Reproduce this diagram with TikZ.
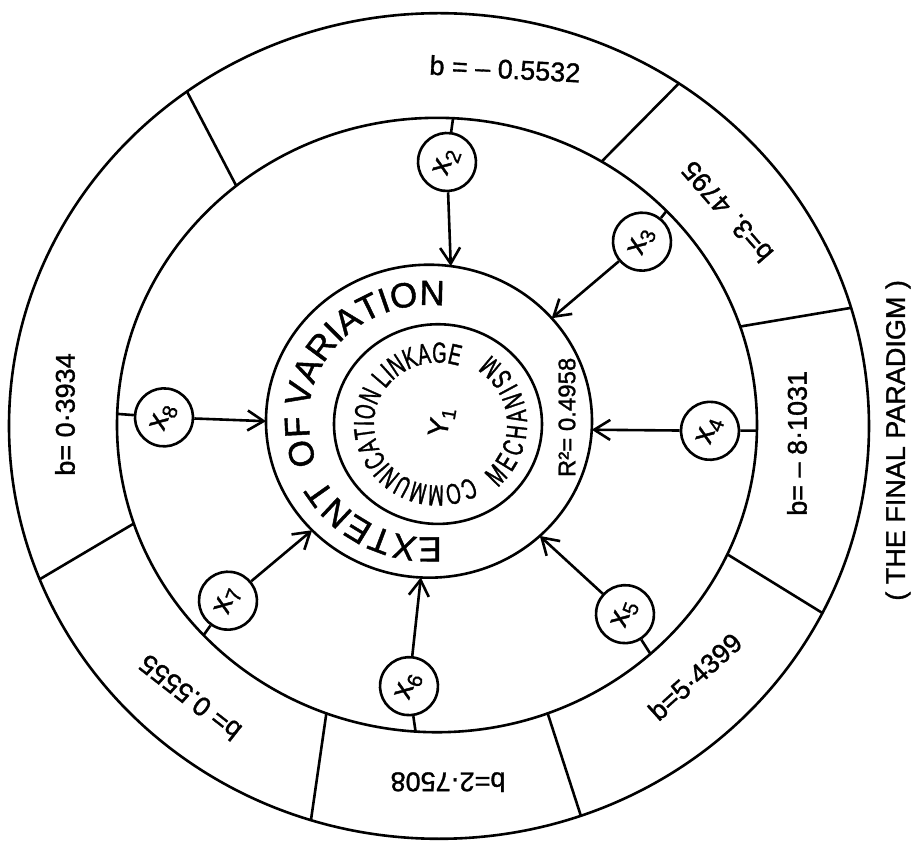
\documentclass[tikz,border=0pt]{standalone}
\usepackage{fontspec}
\setmainfont[FakeBold=1.2]{Liberation Sans}
\newfontfamily\narrowfont[FakeStretch=0.64,FakeBold=1.2]{Liberation Sans}
\usetikzlibrary{shapes.geometric,arrows.meta,decorations.text}
\newcommand\ringfont{\fontsize{35}{40}\selectfont}
\newcommand\corefont{\narrowfont\fontsize{29}{34}\selectfont}
\begin{document}
\begin{tikzpicture}[x=1pt, y=0.96pt, line width=2.6pt,
  >={Straight Barb[length=16pt,width=20pt]},
  ring/.style={draw, ellipse, inner sep=0pt, outer sep=0pt, minimum width=#1, minimum height=0.96*#1},
  xnode/.style={draw, circle, minimum size=58pt, inner sep=0pt, font=\fontsize{30}{32}\selectfont, rotate=70},
  blabel/.style={inner sep=0pt, font=\fontsize{27}{30}\selectfont}]
\useasboundingbox (-437,-439.6) rectangle (477,443.75);

\node[ring=860] (outer) at (2,0) {};
\node[ring=640] (mid) at (0,1) {};
\node[ring=326] (ext) at (-8,5) {};
\node[ring=208] (core) at (1,2) {};

% segments of the outer band
\draw (mid.58) -- (outer.55);
\draw (mid.18) -- (outer.16);
\draw (mid.-24) -- (outer.-26);
\draw (mid.-69) -- (outer.-70);
\draw (mid.-111) -- (outer.-108);
\draw (mid.198) -- (outer.201);
\draw (mid.130) -- (outer.127);

\node[blabel, rotate=-3] (b1) at (68,372) {b = – 0.5532};
\node[blabel, rotate=131] (b2) at (290,223) {b=3. 4795};
\node[blabel, rotate=90] (b3) at (360,-18) {b= – 8·1031};
\node[blabel, rotate=42] (b4) at (258,-261) {b=5·4399};
\node[blabel, rotate=180] (b5) at (11,-371) {b=2·7508};
\node[blabel, rotate=142] (b6) at (-247,-283) {b= 0.5555};
\node[blabel, rotate=90] (b7) at (-372,12) {b= 0·3934};

\node[xnode] (x2) at (10,275) {x\textsubscript{2}};
\node[xnode] (x3) at (205,192) {x\textsubscript{3}};
\node[xnode] (x4) at (273,-5) {x\textsubscript{4}};
\node[xnode] (x5) at (188,-196) {x\textsubscript{5}};
\node[xnode] (x6) at (-28,-271) {x\textsubscript{6}};
\node[xnode] (x7) at (-209,-182) {x\textsubscript{7}};
\node[xnode] (x8) at (-273,9) {x\textsubscript{8}};

\draw (x2) -- (mid.87);
\draw (x3) -- (mid.43);
\draw (x4) -- (mid.-1);
\draw (x5) -- (mid.-47);
\draw (x6) -- (mid.-94);
\draw (x7) -- (mid.222);
\draw (x8) -- (mid.178);

\draw[->] (x2) -- (ext.82);
\draw[->] (x3) -- (ext.40);
\draw[->] (x4) -- (ext.-3);
\draw[->] (x5) -- (ext.-46);
\draw[->] (x6) -- (ext.-93);
\draw[->] (x7) -- (ext.223);
\draw[->] (x8) -- (ext.180);

% lettering round the rings
\path[decorate, decoration={text along path, text align=fit to path, text={|\ringfont|EXTENT}}]
  ([shift={(ext.center)}]-84:121) arc[start angle=-84, end angle=-151, radius=121];
\path[decorate, decoration={text along path, text align=fit to path, text={|\ringfont|OF}}]
  ([shift={(ext.center)}]201.5:120) arc[start angle=201.5, end angle=178, radius=120];
\path[decorate, decoration={text along path, text align=fit to path, text={|\ringfont|VARIATION}}]
  ([shift={(ext.center)}]173.5:121) arc[start angle=173.5, end angle=83, radius=121];
\path[decorate, decoration={text along path, text align=fit to path, text={|\corefont|COMMUNICATION LINKAGE}}]
  ([shift={(core.center)}]-59:64) arc[start angle=-59, end angle=-289, radius=64];
\path[decorate, decoration={text along path, text align=fit to path, text={|\corefont|MECHANISM}}]
  ([shift={(core.center)}]-48:89) arc[start angle=-48, end angle=54, radius=89];

\node[rotate=80, font=\fontsize{28}{32}\selectfont] (y1) at (5,4) {Y\textsubscript{1}};
\node[rotate=90, font=\fontsize{24}{28}\selectfont] (r2) at (130,9) {R²= 0.4958};
\node[rotate=90, font=\fontsize{27}{32}\selectfont] (title) at (461,-15) {( THE FINAL PARADIGM )};
\end{tikzpicture}
\end{document}
